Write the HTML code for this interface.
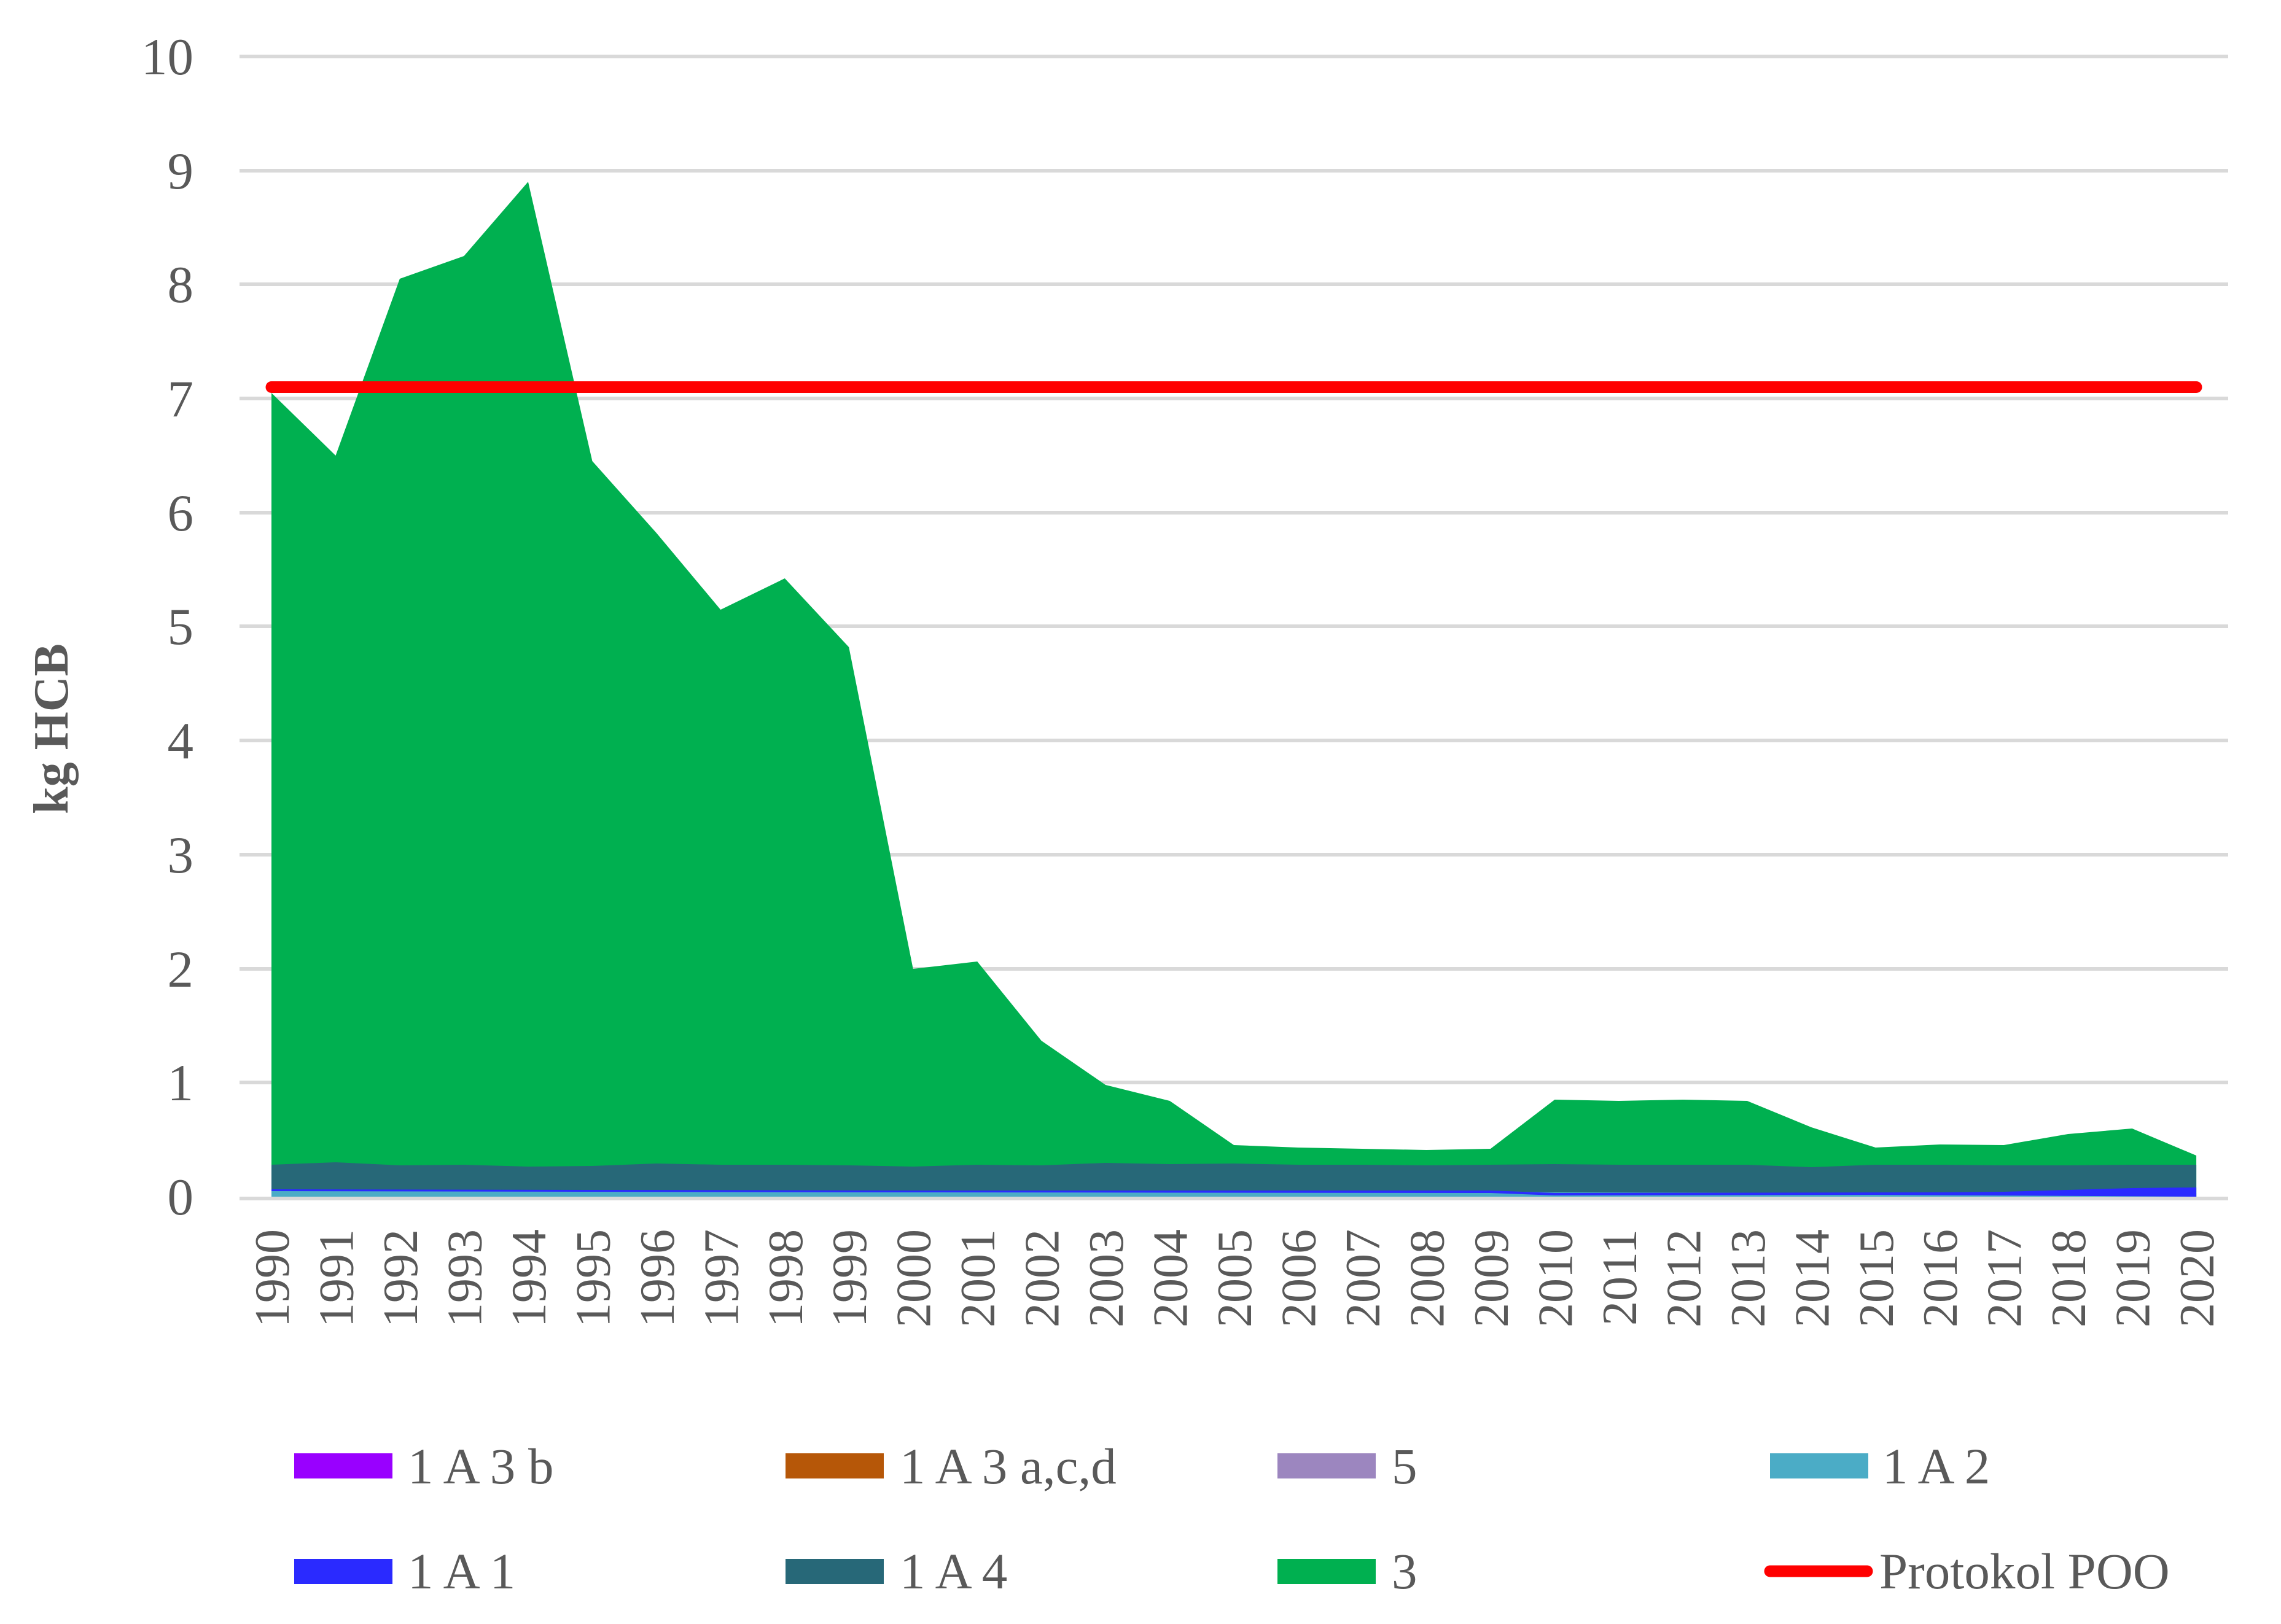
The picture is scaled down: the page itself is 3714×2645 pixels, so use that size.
<!DOCTYPE html>
<html><head><meta charset="utf-8"><style>
html,body{margin:0;padding:0;background:#fff;}
svg{display:block;}
text{font-family:"Liberation Serif",serif;fill:#595959;}
</style></head><body>
<svg width="3714" height="2645" viewBox="0 0 3714 2645" xmlns="http://www.w3.org/2000/svg">
<g stroke="#d9d9d9" stroke-width="6">
<line x1="390" y1="92" x2="3628" y2="92"/>
<line x1="390" y1="278" x2="3628" y2="278"/>
<line x1="390" y1="463" x2="3628" y2="463"/>
<line x1="390" y1="649" x2="3628" y2="649"/>
<line x1="390" y1="835" x2="3628" y2="835"/>
<line x1="390" y1="1020" x2="3628" y2="1020"/>
<line x1="390" y1="1206" x2="3628" y2="1206"/>
<line x1="390" y1="1392" x2="3628" y2="1392"/>
<line x1="390" y1="1578" x2="3628" y2="1578"/>
<line x1="390" y1="1763" x2="3628" y2="1763"/>
</g>
<polygon fill="#00b050" points="442,640 546.5,742 650.9,454 755.4,417 859.9,296 964.4,751 1068.8,868 1173.3,993 1277.8,942 1382.2,1054 1486.7,1578 1591.2,1566 1695.6,1695 1800.1,1767 1904.6,1793 2009.1,1865 2113.5,1869 2218,1871 2322.5,1873 2426.9,1871 2531.4,1791 2635.9,1793 2740.3,1791 2844.8,1793 2949.3,1836 3053.8,1869 3158.2,1864 3262.7,1865 3367.2,1847 3471.6,1838 3576.1,1882 3576.1,1949 442,1949"/>
<polygon fill="#276878" points="442,1897 546.5,1893 650.9,1898 755.4,1897 859.9,1900 964.4,1899 1068.8,1895 1173.3,1897 1277.8,1897 1382.2,1898 1486.7,1900 1591.2,1897 1695.6,1898 1800.1,1894 1904.6,1896 2009.1,1895 2113.5,1897 2218,1897 2322.5,1898 2426.9,1897 2531.4,1896 2635.9,1897 2740.3,1897 2844.8,1897 2949.3,1901 3053.8,1897 3158.2,1897 3262.7,1898 3367.2,1898 3471.6,1897 3576.1,1897 3576.1,1949 442,1949"/>
<polygon fill="#4bacc6" points="442,1938 1068.8,1939 1486.7,1940 2009.1,1940 2426.9,1940 2531.4,1942 3053.8,1943 3576.1,1943 3576.1,1949 442,1949"/>
<polygon fill="#2a2aff" points="442,1937 1486.7,1939 2426.9,1939 2531.4,1943 3158.2,1942 3262.7,1941 3367.2,1938 3471.6,1935 3576.1,1934 3576.1,1949 3053.8,1946 2531.4,1947 2426.9,1943 1486.7,1942 442,1940"/>
<line x1="390" y1="1952" x2="3628" y2="1952" stroke="#d9d9d9" stroke-width="6"/>
<line x1="442" y1="630.5" x2="3576" y2="630.5" stroke="#ff0000" stroke-width="19" stroke-linecap="round"/>
<g font-size="85" text-anchor="end">
<text x="315" y="121">10</text>
<text x="315" y="307">9</text>
<text x="315" y="492">8</text>
<text x="315" y="678">7</text>
<text x="315" y="864">6</text>
<text x="315" y="1049">5</text>
<text x="315" y="1235">4</text>
<text x="315" y="1421">3</text>
<text x="315" y="1607">2</text>
<text x="315" y="1792">1</text>
<text x="315" y="1978">0</text>
</g>
<text transform="translate(110,1187) rotate(-90)" font-size="80" font-weight="bold" text-anchor="middle">kg HCB</text>
<g font-size="80" text-anchor="end">
<text transform="translate(470,2002) rotate(-90)">1990</text>
<text transform="translate(574.5,2002) rotate(-90)">1991</text>
<text transform="translate(678.9,2002) rotate(-90)">1992</text>
<text transform="translate(783.4,2002) rotate(-90)">1993</text>
<text transform="translate(887.9,2002) rotate(-90)">1994</text>
<text transform="translate(992.4,2002) rotate(-90)">1995</text>
<text transform="translate(1096.8,2002) rotate(-90)">1996</text>
<text transform="translate(1201.3,2002) rotate(-90)">1997</text>
<text transform="translate(1305.8,2002) rotate(-90)">1998</text>
<text transform="translate(1410.2,2002) rotate(-90)">1999</text>
<text transform="translate(1514.7,2002) rotate(-90)">2000</text>
<text transform="translate(1619.2,2002) rotate(-90)">2001</text>
<text transform="translate(1723.6,2002) rotate(-90)">2002</text>
<text transform="translate(1828.1,2002) rotate(-90)">2003</text>
<text transform="translate(1932.6,2002) rotate(-90)">2004</text>
<text transform="translate(2037.1,2002) rotate(-90)">2005</text>
<text transform="translate(2141.5,2002) rotate(-90)">2006</text>
<text transform="translate(2246,2002) rotate(-90)">2007</text>
<text transform="translate(2350.5,2002) rotate(-90)">2008</text>
<text transform="translate(2454.9,2002) rotate(-90)">2009</text>
<text transform="translate(2559.4,2002) rotate(-90)">2010</text>
<text transform="translate(2663.9,2002) rotate(-90)">2011</text>
<text transform="translate(2768.3,2002) rotate(-90)">2012</text>
<text transform="translate(2872.8,2002) rotate(-90)">2013</text>
<text transform="translate(2977.3,2002) rotate(-90)">2014</text>
<text transform="translate(3081.8,2002) rotate(-90)">2015</text>
<text transform="translate(3186.2,2002) rotate(-90)">2016</text>
<text transform="translate(3290.7,2002) rotate(-90)">2017</text>
<text transform="translate(3395.2,2002) rotate(-90)">2018</text>
<text transform="translate(3499.6,2002) rotate(-90)">2019</text>
<text transform="translate(3604.1,2002) rotate(-90)">2020</text>
</g>
<rect x="479" y="2367" width="160" height="41" fill="#9900ff"/>
<rect x="1279" y="2367" width="160" height="41" fill="#b65708"/>
<rect x="2080" y="2367" width="160" height="41" fill="#9c86bf"/>
<rect x="2882" y="2367" width="160" height="41" fill="#4bacc6"/>
<rect x="479" y="2539" width="160" height="41" fill="#2a2aff"/>
<rect x="1279" y="2539" width="160" height="41" fill="#276878"/>
<rect x="2080" y="2539" width="160" height="41" fill="#00b050"/>
<line x1="2882" y1="2559" x2="3040" y2="2559" stroke="#ff0000" stroke-width="19" stroke-linecap="round"/>
<g font-size="83">
<text x="664" y="2416">1 A 3 b</text>
<text x="1465" y="2416">1 A 3 a,c,d</text>
<text x="2266" y="2416">5</text>
<text x="3065" y="2416">1 A 2</text>
<text x="664" y="2587">1 A 1</text>
<text x="1465" y="2587">1 A 4</text>
<text x="2266" y="2587">3</text>
<text x="3060" y="2587">Protokol POO</text>
</g>
</svg>
</body></html>
